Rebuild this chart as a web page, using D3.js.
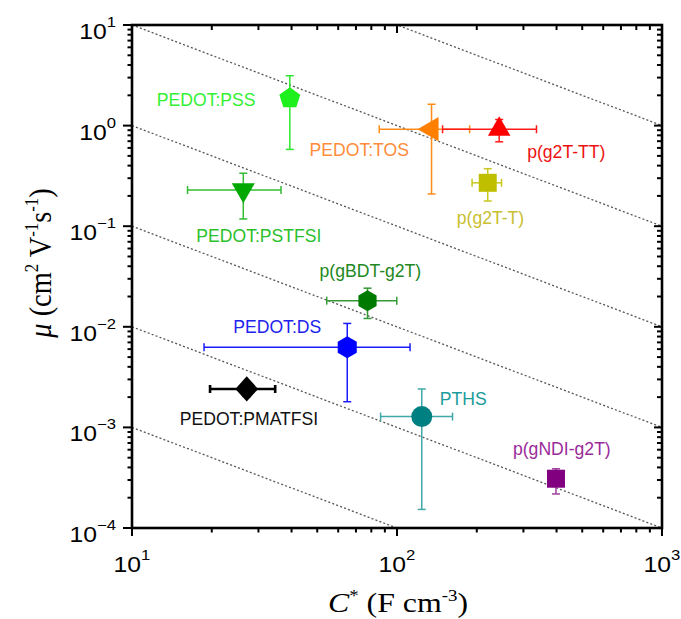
<!DOCTYPE html>
<html><head><meta charset="utf-8">
<script src="https://cdn.jsdelivr.net/npm/d3@7"></script>
<style>body{margin:0;background:#fff}svg{display:block}</style>
</head><body>
<svg id="c" width="681" height="619"></svg>
<script>
// ---------- data ----------
const materials = ["PEDOT:PSS","PEDOT:PSTFSI","PEDOT:TOS","p(g2T-TT)","p(g2T-T)","p(gBDT-g2T)","PEDOT:DS","PEDOT:PMATFSI","PTHS","p(gNDI-g2T)"];
const capacitance = [39.4, 26.3, 135, 243, 220, 77.4, 64.9, 27.1, 124, 398];
const capLow      = [null, 16.2, 85.7, 148.6, 192, 54.3, 18.7, 19.7, 86.7, null];
const capHigh     = [null, 36.5, 188, 336, 248, 99.8, 112, 34.7, 162, null];
const mobility    = [1.87, 0.229, 0.92, 0.92, 0.270, 0.0182, 0.00625, 0.00241, 0.00128, 0.000309];
const mobLow      = [0.58, 0.118, 0.209, 0.69, 0.178, 0.0121, 0.0018, 0.00205, 0.000153, 0.000218];
const mobHigh     = [3.13, 0.336, 1.63, 1.15, 0.373, 0.0242, 0.0108, 0.0028, 0.00241, 0.000388];
const guideProducts = [1000, 100, 10, 1, 0.1, 0.01];
const xTickExps = [1, 2, 3];
const yTickExps = [1, 0, -1, -2, -3, -4];

// ---------- styles ----------
const styles = [
  {shape:"pent",  r:11,  fill:"#1ef01e", err:"#2ee82e", label:"#33f033", dx:-133, dy:8},
  {shape:"tridown", r:13.3, fill:"#00a800", err:"#33bb33", label:"#2cbf2c", dx:-47, dy:52},
  {shape:"trileft", r:14, fill:"#ff7f00", err:"#ff8c1a", label:"#ff8c3a", dx:-122, dy:27},
  {shape:"triup", r:13, fill:"#ff0000", err:"#ff1a1a", label:"#ee1111", dx:28, dy:29},
  {shape:"square", r:9, fill:"#bfbf00", err:"#c8c81e", label:"#c8c030", dx:-31, dy:41},
  {shape:"hex", r:10.5, fill:"#007a00", err:"#339933", label:"#228822", dx:-48, dy:-24},
  {shape:"hex", r:11, fill:"#0000ff", err:"#1a1aff", label:"#2222ee", dx:-114, dy:-14},
  {shape:"diamond", r:12, fill:"#000000", err:"#000000", label:"#111111", dx:-67, dy:36, w:2.6},
  {shape:"circle", r:10.5, fill:"#008080", err:"#40a8a8", label:"#1c9c9c", dx:18, dy:-12},
  {shape:"square", r:9, fill:"#800080", err:"#a040a0", label:"#9a2a9a", dx:-43, dy:-24}
];

const svg = d3.select("#c");
const L = 132, R = 662, T = 25, B = 528;
const x = d3.scaleLog().domain([10, 1000]).range([L, R]);
const y = d3.scaleLog().domain([1e-4, 10]).range([B, T]);

svg.append("rect").attr("width",681).attr("height",619).attr("fill","#fff");
svg.append("clipPath").attr("id","clip").append("rect")
  .attr("x",L).attr("y",T).attr("width",R-L).attr("height",B-T);

// guide lines mu*C = const
const gl = svg.append("g").attr("clip-path","url(#clip)");
guideProducts.forEach(k => {
  gl.append("line")
    .attr("x1", x(10)).attr("y1", y(k/10))
    .attr("x2", x(1000)).attr("y2", y(k/1000))
    .attr("stroke","#555").attr("stroke-width",1.3).attr("stroke-dasharray","2,2.2");
});

// polygon marker paths
function poly(n, r, rotDeg, sx=1, sy=1){
  const pts = d3.range(n).map(i => {
    const a = (rotDeg + i*360/n) * Math.PI/180;
    return [r*Math.cos(a)*sx, r*Math.sin(a)*sy];
  });
  return "M" + pts.map(p => p.join(",")).join("L") + "Z";
}
function shapePath(s){
  switch(s.shape){
    case "pent": return poly(5, s.r, -90);
    case "tridown": return poly(3, s.r, 90);
    case "triup": return poly(3, s.r, -90);
    case "trileft": return poly(3, s.r, 180);
    case "square": return poly(4, s.r*Math.SQRT2, 45);
    case "hex": return poly(6, s.r, -90);
    case "diamond": return poly(4, s.r, -90, 0.95, 1.05);
  }
  return null;
}

const cap = 4;
materials.forEach((name, i) => {
  const s = styles[i];
  const g = svg.append("g");
  const px = x(capacitance[i]), py = y(mobility[i]);
  const w = s.w || 1.5;
  if (capLow[i] != null) {
    const x1 = x(capLow[i]), x2 = x(capHigh[i]);
    g.append("line").attr("x1",x1).attr("x2",x2).attr("y1",py).attr("y2",py).attr("stroke",s.err).attr("stroke-width",w);
    [x1,x2].forEach(xx => g.append("line").attr("x1",xx).attr("x2",xx).attr("y1",py-cap).attr("y2",py+cap).attr("stroke",s.err).attr("stroke-width",w));
  }
  if (mobLow[i] != null) {
    const y1 = y(mobLow[i]), y2 = y(mobHigh[i]);
    g.append("line").attr("x1",px).attr("x2",px).attr("y1",y1).attr("y2",y2).attr("stroke",s.err).attr("stroke-width",w);
    [y1,y2].forEach(yy => g.append("line").attr("x1",px-cap).attr("x2",px+cap).attr("y1",yy).attr("y2",yy).attr("stroke",s.err).attr("stroke-width",w));
  }
  if (s.shape === "circle") {
    g.append("circle").attr("cx",px).attr("cy",py).attr("r",s.r).attr("fill",s.fill);
  } else {
    g.append("path").attr("d",shapePath(s)).attr("transform",`translate(${px},${py})`).attr("fill",s.fill);
  }
});

// labels
materials.forEach((name, i) => {
  const s = styles[i];
  svg.append("text")
    .attr("x", x(capacitance[i]) + s.dx).attr("y", y(mobility[i]) + s.dy)
    .attr("font-family","'Liberation Sans', Arial, sans-serif").attr("font-size",17.6)
    .attr("fill", s.label).text(name);
});

// frame
svg.append("rect").attr("x",L).attr("y",T).attr("width",R-L).attr("height",B-T)
  .attr("fill","none").attr("stroke","#000").attr("stroke-width",2.6);

// ticks
const tk = svg.append("g").attr("stroke","#000").attr("stroke-width",2);
const xMinor = [], yMinor = [];
[1,2].forEach(e => d3.range(2,10).forEach(m => xMinor.push(m*Math.pow(10,e))));
[-4,-3,-2,-1,0].forEach(e => d3.range(2,10).forEach(m => yMinor.push(m*Math.pow(10,e))));
xTickExps.forEach(e => {
  const xx = x(Math.pow(10,e));
  tk.append("line").attr("x1",xx).attr("x2",xx).attr("y1",B).attr("y2",B+8);
  tk.append("line").attr("x1",xx).attr("x2",xx).attr("y1",T).attr("y2",T+8);
});
xMinor.forEach(v => {
  const xx = x(v);
  tk.append("line").attr("x1",xx).attr("x2",xx).attr("y1",B).attr("y2",B+4.5);
  tk.append("line").attr("x1",xx).attr("x2",xx).attr("y1",T).attr("y2",T+5);
});
yTickExps.forEach(e => {
  const yy = y(Math.pow(10,e));
  tk.append("line").attr("x1",L-9).attr("x2",L).attr("y1",yy).attr("y2",yy);
  tk.append("line").attr("x1",R-8).attr("x2",R).attr("y1",yy).attr("y2",yy);
});
yMinor.forEach(v => {
  const yy = y(v);
  tk.append("line").attr("x1",L-4.5).attr("x2",L).attr("y1",yy).attr("y2",yy);
  tk.append("line").attr("x1",R-5).attr("x2",R).attr("y1",yy).attr("y2",yy);
});

// tick labels
const sans = "'Liberation Sans', Arial, sans-serif";
function powLabel(g, ex, anchor){
  const t = g.append("text").attr("font-family",sans).attr("text-anchor",anchor).attr("fill","#000");
  t.append("tspan").attr("font-size",21.5).text("10");
  t.append("tspan").attr("font-size",14.5).attr("dy",-12).text(ex < 0 ? "\u2212" + (-ex) : String(ex));
  return t;
}
xTickExps.forEach(e => {
  const g = svg.append("g").attr("transform",`translate(${x(Math.pow(10,e))},572) scale(1.15,1)`);
  powLabel(g, e, "middle");
});
yTickExps.forEach(e => {
  const g = svg.append("g").attr("transform",`translate(116,${y(Math.pow(10,e))+14}) scale(1.15,1)`);
  powLabel(g, e, "end");
});

// axis titles
const serif = "'Liberation Serif', 'Times New Roman', serif";
const xt = svg.append("g").attr("transform","translate(398,612) scale(1.18,1)")
  .append("text").attr("font-family",serif).attr("font-size",27).attr("text-anchor","middle").attr("fill","#000");
xt.append("tspan").attr("font-style","italic").text("C");
xt.append("tspan").attr("font-size",16).attr("dy",-11).text("*");
xt.append("tspan").attr("dy",11).text(" (F cm");
xt.append("tspan").attr("font-size",16).attr("dy",-11).text("-3");
xt.append("tspan").attr("dy",11).text(")");

const yt = svg.append("g").attr("transform","translate(51,263) rotate(-90) scale(1.05,1.2)")
  .append("text").attr("font-family",serif).attr("font-size",27).attr("text-anchor","middle").attr("fill","#000");
yt.append("tspan").attr("font-style","italic").text("\u03bc");
yt.append("tspan").text(" (cm");
yt.append("tspan").attr("font-size",16).attr("dy",-11).text("2");
yt.append("tspan").attr("dy",11).text(" V");
yt.append("tspan").attr("font-size",16).attr("dy",-11).text("-1");
yt.append("tspan").attr("dy",11).text("s");
yt.append("tspan").attr("font-size",16).attr("dy",-11).text("-1");
yt.append("tspan").attr("dy",11).text(")");
</script>
</body></html>
